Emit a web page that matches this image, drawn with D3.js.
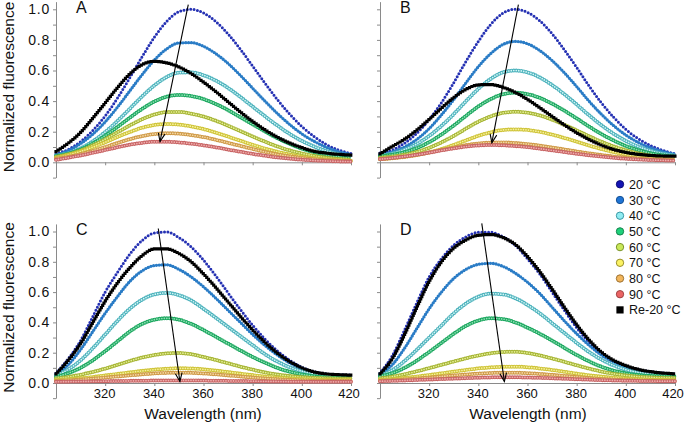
<!DOCTYPE html>
<html><head><meta charset="utf-8">
<script src="https://cdn.jsdelivr.net/npm/d3@7"></script>
<style>
body{margin:0;background:#fff}
svg{display:block}
text{font-family:Arial,"Liberation Sans",sans-serif}
</style>
</head><body>
<svg id="chart" width="684" height="428"></svg>
<script>
// ---------- data (normalized fluorescence) ----------
const wavelengths = [300,305,310,315,320,325,330,335,340,345,350,355,360,365,370,375,380,385,390,395,400,405,410,415,420];
const xTicks = [320,340,360,380,400,420];
const yTicks = [-0.1,0,0.1,0.2,0.3,0.4,0.5,0.6,0.7,0.8,0.9,1.0];
const seriesLabels = ["20 °C","30 °C","40 °C","50 °C","60 °C","70 °C","80 °C","90 °C","Re-20 °C"];
const panelLabels = ["A","B","C","D"];

// Panel A
const A20 = [0.055,0.084,0.135,0.208,0.303,0.419,0.552,0.689,0.817,0.920,0.984,1.000,0.976,0.920,0.839,0.739,0.629,0.517,0.411,0.316,0.234,0.168,0.116,0.080,0.058];
const A30 = [0.048,0.076,0.122,0.184,0.264,0.360,0.466,0.572,0.668,0.741,0.780,0.782,0.758,0.710,0.646,0.568,0.484,0.400,0.320,0.248,0.186,0.137,0.098,0.070,0.052];
const A40 = [0.044,0.060,0.091,0.138,0.198,0.270,0.350,0.430,0.502,0.557,0.586,0.588,0.569,0.534,0.486,0.427,0.364,0.301,0.241,0.186,0.140,0.103,0.074,0.054,0.040];
const A50 = [0.040,0.056,0.084,0.124,0.174,0.231,0.291,0.349,0.397,0.429,0.440,0.433,0.413,0.381,0.341,0.295,0.248,0.202,0.158,0.121,0.089,0.066,0.048,0.035,0.027];
const A60 = [0.035,0.052,0.077,0.111,0.151,0.196,0.241,0.281,0.312,0.328,0.329,0.318,0.299,0.272,0.239,0.204,0.168,0.135,0.104,0.078,0.058,0.042,0.030,0.022,0.017];
const A70 = [0.030,0.048,0.071,0.099,0.131,0.166,0.198,0.226,0.244,0.250,0.246,0.235,0.217,0.194,0.168,0.141,0.115,0.090,0.069,0.051,0.037,0.027,0.019,0.014,0.010];
const A80 = [0.025,0.036,0.054,0.075,0.100,0.126,0.151,0.171,0.185,0.190,0.187,0.178,0.165,0.147,0.127,0.107,0.087,0.068,0.052,0.039,0.029,0.021,0.015,0.011,0.008];
const A90 = [0.016,0.030,0.045,0.062,0.080,0.098,0.115,0.127,0.134,0.134,0.130,0.122,0.111,0.098,0.083,0.069,0.055,0.043,0.032,0.024,0.017,0.012,0.009,0.006,0.005];
const ARe = [0.070,0.125,0.195,0.289,0.388,0.488,0.577,0.638,0.660,0.650,0.623,0.580,0.524,0.462,0.395,0.329,0.267,0.212,0.165,0.126,0.096,0.072,0.060,0.052,0.047];
// Panel B
const B20 = [0.060,0.080,0.125,0.190,0.280,0.390,0.520,0.660,0.790,0.900,0.975,1.000,0.980,0.925,0.840,0.735,0.620,0.500,0.390,0.295,0.215,0.155,0.110,0.078,0.055];
const B30 = [0.050,0.068,0.100,0.150,0.220,0.310,0.410,0.520,0.625,0.710,0.770,0.790,0.775,0.730,0.665,0.585,0.495,0.400,0.315,0.240,0.178,0.130,0.095,0.070,0.052];
const B40 = [0.045,0.058,0.083,0.120,0.172,0.238,0.315,0.400,0.480,0.545,0.588,0.600,0.588,0.555,0.505,0.445,0.378,0.308,0.243,0.187,0.140,0.103,0.076,0.057,0.045];
const B50 = [0.040,0.050,0.067,0.093,0.132,0.182,0.240,0.304,0.365,0.413,0.445,0.455,0.446,0.421,0.383,0.337,0.287,0.234,0.185,0.143,0.107,0.080,0.060,0.046,0.037];
const B60 = [0.030,0.038,0.050,0.068,0.095,0.130,0.173,0.220,0.265,0.300,0.323,0.330,0.324,0.306,0.279,0.245,0.209,0.171,0.135,0.104,0.079,0.059,0.044,0.034,0.027];
const B70 = [0.020,0.026,0.035,0.047,0.064,0.087,0.114,0.144,0.173,0.196,0.211,0.215,0.211,0.199,0.181,0.159,0.135,0.110,0.087,0.067,0.051,0.038,0.029,0.022,0.018];
const B80 = [0.022,0.029,0.038,0.050,0.065,0.081,0.097,0.112,0.123,0.129,0.130,0.126,0.119,0.109,0.097,0.084,0.071,0.059,0.048,0.038,0.031,0.025,0.020,0.017,0.014];
const B90 = [0.021,0.028,0.038,0.049,0.063,0.078,0.091,0.103,0.110,0.113,0.111,0.106,0.099,0.089,0.078,0.067,0.056,0.046,0.037,0.029,0.023,0.019,0.015,0.013,0.011];
const BRe = [0.055,0.104,0.151,0.211,0.280,0.354,0.423,0.477,0.506,0.508,0.490,0.457,0.411,0.357,0.300,0.244,0.193,0.149,0.112,0.084,0.065,0.052,0.045,0.041,0.040];
// Panel C
const C20 = [0.065,0.160,0.280,0.440,0.600,0.730,0.850,0.940,0.990,0.997,0.960,0.898,0.811,0.707,0.595,0.485,0.381,0.290,0.213,0.151,0.104,0.075,0.060,0.055,0.052];
const C30 = [0.055,0.120,0.220,0.340,0.460,0.570,0.670,0.740,0.775,0.780,0.750,0.700,0.635,0.560,0.480,0.400,0.320,0.248,0.185,0.133,0.095,0.070,0.056,0.050,0.048];
const C40 = [0.050,0.090,0.150,0.230,0.320,0.410,0.490,0.550,0.585,0.595,0.580,0.545,0.490,0.430,0.370,0.310,0.250,0.190,0.142,0.104,0.078,0.060,0.050,0.045,0.043];
const C50 = [0.040,0.065,0.100,0.150,0.210,0.275,0.340,0.390,0.418,0.427,0.418,0.390,0.350,0.305,0.260,0.215,0.172,0.134,0.100,0.075,0.057,0.045,0.038,0.035,0.034];
const C60 = [0.030,0.040,0.055,0.073,0.095,0.120,0.145,0.168,0.185,0.195,0.198,0.190,0.172,0.152,0.130,0.108,0.088,0.070,0.056,0.046,0.039,0.034,0.031,0.030,0.029];
const C70 = [0.020,0.025,0.032,0.040,0.050,0.060,0.070,0.080,0.088,0.094,0.097,0.096,0.090,0.082,0.072,0.062,0.052,0.043,0.036,0.030,0.026,0.023,0.021,0.020,0.020];
const C80 = [0.015,0.018,0.023,0.029,0.036,0.043,0.050,0.057,0.063,0.067,0.068,0.067,0.063,0.057,0.050,0.043,0.036,0.030,0.025,0.021,0.018,0.016,0.015,0.014,0.014];
const C90 = [0.008,0.009,0.010,0.011,0.012,0.013,0.014,0.015,0.016,0.016,0.017,0.017,0.016,0.015,0.014,0.013,0.012,0.011,0.010,0.009,0.009,0.008,0.008,0.008,0.008];
const CRe = [0.060,0.150,0.260,0.400,0.540,0.660,0.760,0.840,0.885,0.885,0.855,0.800,0.720,0.630,0.535,0.440,0.350,0.268,0.198,0.142,0.100,0.073,0.060,0.055,0.052];
// Panel D
const D20 = [0.065,0.180,0.350,0.530,0.700,0.820,0.910,0.965,0.995,0.995,0.965,0.910,0.820,0.720,0.600,0.480,0.365,0.270,0.195,0.145,0.112,0.089,0.075,0.066,0.060];
const D30 = [0.060,0.120,0.230,0.360,0.490,0.600,0.690,0.750,0.783,0.790,0.770,0.725,0.665,0.590,0.500,0.410,0.325,0.250,0.185,0.138,0.104,0.082,0.068,0.060,0.056];
const D40 = [0.050,0.085,0.145,0.220,0.300,0.380,0.460,0.525,0.570,0.590,0.585,0.560,0.515,0.460,0.395,0.330,0.265,0.205,0.155,0.116,0.088,0.070,0.058,0.052,0.050];
const D50 = [0.045,0.065,0.100,0.148,0.205,0.265,0.325,0.377,0.412,0.427,0.422,0.400,0.365,0.325,0.280,0.232,0.185,0.143,0.108,0.082,0.064,0.053,0.047,0.045,0.044];
const D60 = [0.030,0.042,0.058,0.077,0.098,0.120,0.142,0.163,0.182,0.196,0.205,0.206,0.198,0.182,0.162,0.140,0.117,0.095,0.076,0.061,0.050,0.042,0.037,0.034,0.033];
const D70 = [0.020,0.026,0.034,0.043,0.053,0.064,0.075,0.086,0.096,0.103,0.107,0.108,0.104,0.096,0.086,0.074,0.062,0.051,0.042,0.035,0.029,0.025,0.022,0.021,0.020];
const D80 = [0.015,0.019,0.024,0.030,0.036,0.043,0.050,0.056,0.062,0.066,0.068,0.068,0.065,0.060,0.054,0.047,0.040,0.033,0.027,0.023,0.020,0.017,0.016,0.015,0.015];
const D90 = [0.012,0.014,0.017,0.020,0.023,0.026,0.029,0.032,0.035,0.037,0.038,0.038,0.036,0.034,0.031,0.028,0.025,0.022,0.019,0.017,0.015,0.014,0.013,0.012,0.012];
const DRe = [0.060,0.160,0.320,0.500,0.670,0.800,0.890,0.945,0.975,0.980,0.960,0.915,0.835,0.735,0.620,0.500,0.385,0.285,0.205,0.150,0.115,0.090,0.075,0.066,0.060];

// arrows: [start wavelength, start value, end wavelength, end value]
const arrowA = [353.8, 1.03, 342.3, 0.135];
const arrowB = [356.3, 1.03, 345.5, 0.128];
const arrowC = [341.6, 1.02, 350.4, 0.01];
const arrowD = [341.4, 1.054, 350.6, 0.01];

// ---------- styles ----------
const legendFill   = ["#1414b4","#1f74d4","#90ecf2","#1fd07a","#c9e85a","#fbf264","#f2b65c","#ea6464","#000"];
const legendStroke = ["#0a0a70","#0f4a8c","#2f8f9c","#0f7a44","#6f8a1e","#8f8420","#94692a","#973c3c","#000"];
const markEdge  = ["#2531b3","#2a7cc6","#4fb3bd","#1ea861","#a7b536","#cfc43a","#cf9a48","#c86565","#000"];
const markInner = [null,null,"#d4f6f6","#8fe0b4","#e6f09a","#f7f2a0","#f4d8a6","#f0b0b0",null];

const panels = [
  {label:"A", series:[A20,A30,A40,A50,A60,A70,A80,A90,ARe], arrow:arrowA, left:56,  right:351, zero:162.3, unit:153,   yLabels:true,  xLabels:false},
  {label:"B", series:[B20,B30,B40,B50,B60,B70,B80,B90,BRe], arrow:arrowB, left:380, right:675, zero:162.3, unit:153,   yLabels:false, xLabels:false},
  {label:"C", series:[C20,C30,C40,C50,C60,C70,C80,C90,CRe], arrow:arrowC, left:56,  right:351, zero:383,   unit:151.5, yLabels:true,  xLabels:true},
  {label:"D", series:[D20,D30,D40,D50,D60,D70,D80,D90,DRe], arrow:arrowD, left:380, right:675, zero:383,   unit:151.5, yLabels:false, xLabels:true}
];

const svg = d3.select("#chart");
const axisColor = "#8a8a8a";

panels.forEach((p, pi) => {
  const x = d3.scaleLinear().domain([300,420]).range([p.left, p.right]);
  const y = d3.scaleLinear().domain([-0.1,1.05]).range([p.zero + 0.1*p.unit, p.zero - 1.05*p.unit]);
  const g = svg.append("g");

  // x axis at y = 0
  const xa = g.append("g").attr("transform", `translate(0,${y(0)})`)
    .call(d3.axisBottom(x).tickValues(xTicks).tickSize(3).tickSizeOuter(0).tickPadding(3)
      .tickFormat(d => p.xLabels ? String(d) : ""));
  // y axis
  const ya = g.append("g").attr("transform", `translate(${p.left},0)`)
    .call(d3.axisLeft(y).tickValues(yTicks).tickSize(3).tickSizeOuter(0).tickPadding(3)
      .tickFormat(d => (p.yLabels && d >= 0 && Math.round(d*10) % 2 === 0) ? d3.format(".1f")(d) : ""));
  [xa, ya].forEach(a => {
    a.selectAll("path,line").attr("stroke", axisColor).attr("stroke-width", 1);
    a.selectAll("text").attr("fill", "#111").style("font-family", "Arial, 'Liberation Sans', sans-serif");
  });
  xa.selectAll("text").style("font-size", "13px").attr("dx", d => d === 420 ? "-2.5" : "-1");
  ya.selectAll("text").style("font-size", "14px").style("letter-spacing", "0.8px");

  // series
  const line = d3.line().x((d, i) => x(wavelengths[i])).y(d => y(d)).curve(d3.curveMonotoneX);
  p.series.forEach((vals, si) => {
    const sg = g.append("g").attr("class", "series");
    if (si === 8) {
      sg.append("path").attr("d", line(vals)).attr("fill", "none")
        .attr("stroke", "#000").attr("stroke-width", 3.2)
        .attr("stroke-linecap", "square").attr("stroke-dasharray", "0 2.6");
    } else if (si < 2) {
      sg.append("path").attr("d", line(vals)).attr("fill", "none")
        .attr("stroke", markEdge[si]).attr("stroke-width", si === 0 ? 3 : 3.3)
        .attr("stroke-linecap", "round").attr("stroke-dasharray", si === 0 ? "0 3.4" : "0 2.8");
    } else {
      sg.append("path").attr("d", line(vals)).attr("fill", "none")
        .attr("stroke", markEdge[si]).attr("stroke-width", 4)
        .attr("stroke-linecap", "round").attr("stroke-dasharray", "0 2.5");
      sg.append("path").attr("d", line(vals)).attr("fill", "none")
        .attr("stroke", markInner[si]).attr("stroke-width", 1.7)
        .attr("stroke-linecap", "round").attr("stroke-dasharray", "0 2.5");
    }
  });

  // arrow
  const [w1, v1, w2, v2] = p.arrow;
  const x1 = x(w1), y1 = y(v1), x2 = x(w2), y2 = y(v2);
  const ang = Math.atan2(y2 - y1, x2 - x1);
  const hl = 9, spread = 0.38;
  g.append("line").attr("x1", x1).attr("y1", y1).attr("x2", x2).attr("y2", y2)
    .attr("stroke", "#000").attr("stroke-width", 1.1);
  g.append("path")
    .attr("d", `M${x2 - hl*Math.cos(ang - spread)},${y2 - hl*Math.sin(ang - spread)} L${x2},${y2} L${x2 - hl*Math.cos(ang + spread)},${y2 - hl*Math.sin(ang + spread)}`)
    .attr("fill", "none").attr("stroke", "#000").attr("stroke-width", 1.1);

  // panel letter
  g.append("text").attr("x", p.left + 20).attr("y", y(1.05) + 11.5)
    .style("font-size", "16px").attr("fill", "#111").text(p.label);
});

// axis titles
[[87], [307.5]].forEach(([cy]) => {
  svg.append("text").attr("transform", `translate(13.5,${cy}) rotate(-90)`)
    .attr("text-anchor", "middle").style("font-size", "15.5px").attr("fill", "#111")
    .text("Normalized fluorescence");
});
svg.append("text").attr("x", 203).attr("y", 419).attr("text-anchor", "middle")
  .style("font-size", "15.5px").attr("fill", "#111").text("Wavelength (nm)");
svg.append("text").attr("x", 528).attr("y", 419).attr("text-anchor", "middle")
  .style("font-size", "15.5px").attr("fill", "#111").text("Wavelength (nm)");

// legend
const lg = svg.append("g").attr("transform", "translate(620,184.3)");
seriesLabels.forEach((lab, i) => {
  const row = lg.append("g").attr("transform", `translate(0,${i*15.7})`);
  if (i === 8) {
    row.append("rect").attr("x", -3.6).attr("y", -3.6).attr("width", 7.2).attr("height", 7.2).attr("fill", "#000");
  } else {
    row.append("circle").attr("r", 3.7).attr("fill", legendFill[i])
      .attr("stroke", legendStroke[i]).attr("stroke-width", 0.9);
  }
  row.append("text").attr("x", 9).attr("y", 0).attr("dy", "0.36em")
    .style("font-size", "12.5px").attr("fill", "#111").text(lab);
});
</script>
</body></html>
